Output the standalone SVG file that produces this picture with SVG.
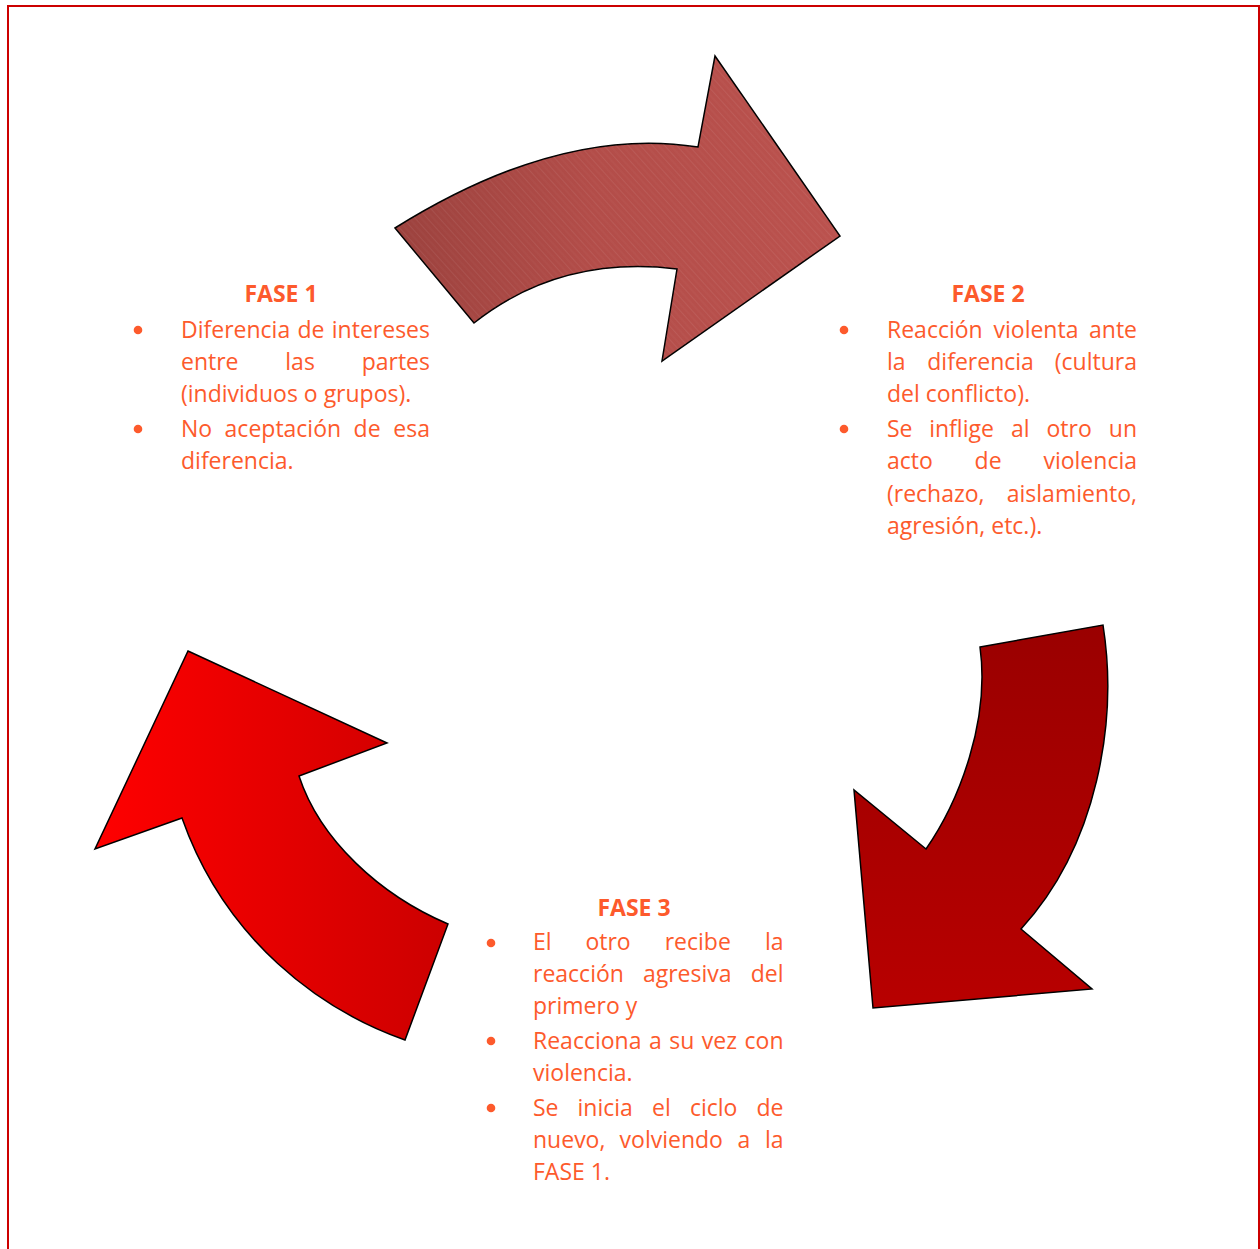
<svg xmlns="http://www.w3.org/2000/svg" width="1260" height="1249" viewBox="0 0 1260 1249">
<defs>
<linearGradient id="g1" x1="395" y1="230" x2="840" y2="230" gradientUnits="userSpaceOnUse">
<stop offset="0" stop-color="#9c423e"/><stop offset="0.45" stop-color="#b34d49"/><stop offset="1" stop-color="#bb524e"/>
</linearGradient>
<pattern id="stripes" width="9" height="9" patternUnits="userSpaceOnUse" patternTransform="rotate(-42)">
<line x1="0" y1="0" x2="0" y2="9" stroke="#ffffff" stroke-opacity="0.2" stroke-width="0.7"/>
<line x1="5" y1="0" x2="5" y2="9" stroke="#ffffff" stroke-opacity="0.08" stroke-width="0.6"/>
</pattern>
<linearGradient id="g2" x1="0" y1="625" x2="0" y2="1010" gradientUnits="userSpaceOnUse">
<stop offset="0" stop-color="#9a0000"/><stop offset="1" stop-color="#b80000"/>
</linearGradient>
<linearGradient id="g3" x1="95" y1="0" x2="448" y2="0" gradientUnits="userSpaceOnUse">
<stop offset="0" stop-color="#ff0000"/><stop offset="1" stop-color="#cc0000"/>
</linearGradient>
</defs>
<style>
.t{font-family:"Open Sans","Liberation Sans",sans-serif;font-size:23px;fill:#fd5a2c}
.h{font-family:"Open Sans","Liberation Sans",sans-serif;font-size:23px;font-weight:bold;fill:#fd5a2c;text-anchor:middle}
.e{text-anchor:end}
.b{fill:#fd5a2c}
.arr{stroke:#000;stroke-width:1.5;stroke-linejoin:miter}
</style>
<rect x="8" y="6" width="1251" height="1260" fill="#ffffff" stroke="#cc0000" stroke-width="2"/>

<g id="connectors">
<g id="arrow-top">
<path class="arr" fill="url(#g1)" d="M395,228 L474,323 Q560,255 677,269 L662,361 L840,236 L715,56 L698,147 Q560,125 395,228 Z"/>
<path fill="url(#stripes)" d="M395,228 L474,323 Q560,255 677,269 L662,361 L840,236 L715,56 L698,147 Q560,125 395,228 Z"/>
</g>
<path id="arrow-right" class="arr" fill="url(#g2)" d="M980,647 L1103,625 C1118,720 1098,845 1021,929 L1092,989 L873,1008 L854,790 L926,849 C960,800 990,720 980,647 Z"/>
<path id="arrow-left" class="arr" fill="url(#g3)" d="M188,651 L387,743 L299,776 C320,840 380,895 448,924 L405,1040 C320,1010 225,940 182,818 L95,849 Z"/>
</g>

<g id="fase1">
<text class="h" x="281" y="302">FASE 1</text>
<circle class="b" cx="138" cy="330" r="4.3"/>
<circle class="b" cx="138" cy="429" r="4.3"/>
<text class="t" x="181" y="338">Diferencia</text><text class="t" x="297.4" y="338">de</text><text class="t e" x="430" y="338">intereses</text>
<text class="t" x="181" y="370">entre</text><text class="t" x="285.3" y="370">las</text><text class="t e" x="430" y="370">partes</text>
<text class="t" x="181" y="402">(individuos o grupos).</text>
<text class="t" x="181" y="437">No</text><text class="t" x="224.6" y="437">aceptación</text><text class="t" x="353.6" y="437">de</text><text class="t e" x="430" y="437">esa</text>
<text class="t" x="181" y="469">diferencia.</text>
</g>

<g id="fase2">
<text class="h" x="988" y="302">FASE 2</text>
<circle class="b" cx="844" cy="330" r="4.3"/>
<circle class="b" cx="844" cy="429" r="4.3"/>
<text class="t" x="887" y="338">Reacción</text><text class="t" x="993.5" y="338">violenta</text><text class="t e" x="1137" y="338">ante</text>
<text class="t" x="887" y="370">la</text><text class="t" x="927.3" y="370">diferencia</text><text class="t e" x="1137" y="370">(cultura</text>
<text class="t" x="887" y="402">del conflicto).</text>
<text class="t" x="887" y="437">Se</text><text class="t" x="929.2" y="437">inflige</text><text class="t" x="1011" y="437">al</text><text class="t" x="1046.5" y="437">otro</text><text class="t e" x="1137" y="437">un</text>
<text class="t" x="887" y="469">acto</text><text class="t" x="974.6" y="469">de</text><text class="t e" x="1137" y="469">violencia</text>
<text class="t" x="887" y="502">(rechazo,</text><text class="t e" x="1137" y="502">aislamiento,</text>
<text class="t" x="887" y="534">agresión, etc.).</text>
</g>

<g id="fase3">
<text class="h" x="634" y="916">FASE 3</text>
<circle class="b" cx="491" cy="943" r="4.3"/>
<circle class="b" cx="491" cy="1041" r="4.3"/>
<circle class="b" cx="491" cy="1108" r="4.3"/>
<text class="t" x="533" y="950">El</text><text class="t" x="585.4" y="950">otro</text><text class="t" x="664.7" y="950">recibe</text><text class="t e" x="783.5" y="950">la</text>
<text class="t" x="533" y="982">reacción</text><text class="t" x="642.9" y="982">agresiva</text><text class="t e" x="783.5" y="982">del</text>
<text class="t" x="533" y="1014">primero y</text>
<text class="t" x="533" y="1049">Reacciona</text><text class="t" x="649.1" y="1049">a</text><text class="t" x="669.3" y="1049">su</text><text class="t" x="701.8" y="1049">vez</text><text class="t e" x="783.5" y="1049">con</text>
<text class="t" x="533" y="1081">violencia.</text>
<text class="t" x="533" y="1116">Se</text><text class="t" x="577.5" y="1116">inicia</text><text class="t" x="652" y="1116">el</text><text class="t" x="689.9" y="1116">ciclo</text><text class="t e" x="783.5" y="1116">de</text>
<text class="t" x="533" y="1148">nuevo,</text><text class="t" x="619.6" y="1148">volviendo</text><text class="t" x="737.6" y="1148">a</text><text class="t e" x="783.5" y="1148">la</text>
<text class="t" x="533" y="1180">FASE 1.</text>
</g>
</svg>
